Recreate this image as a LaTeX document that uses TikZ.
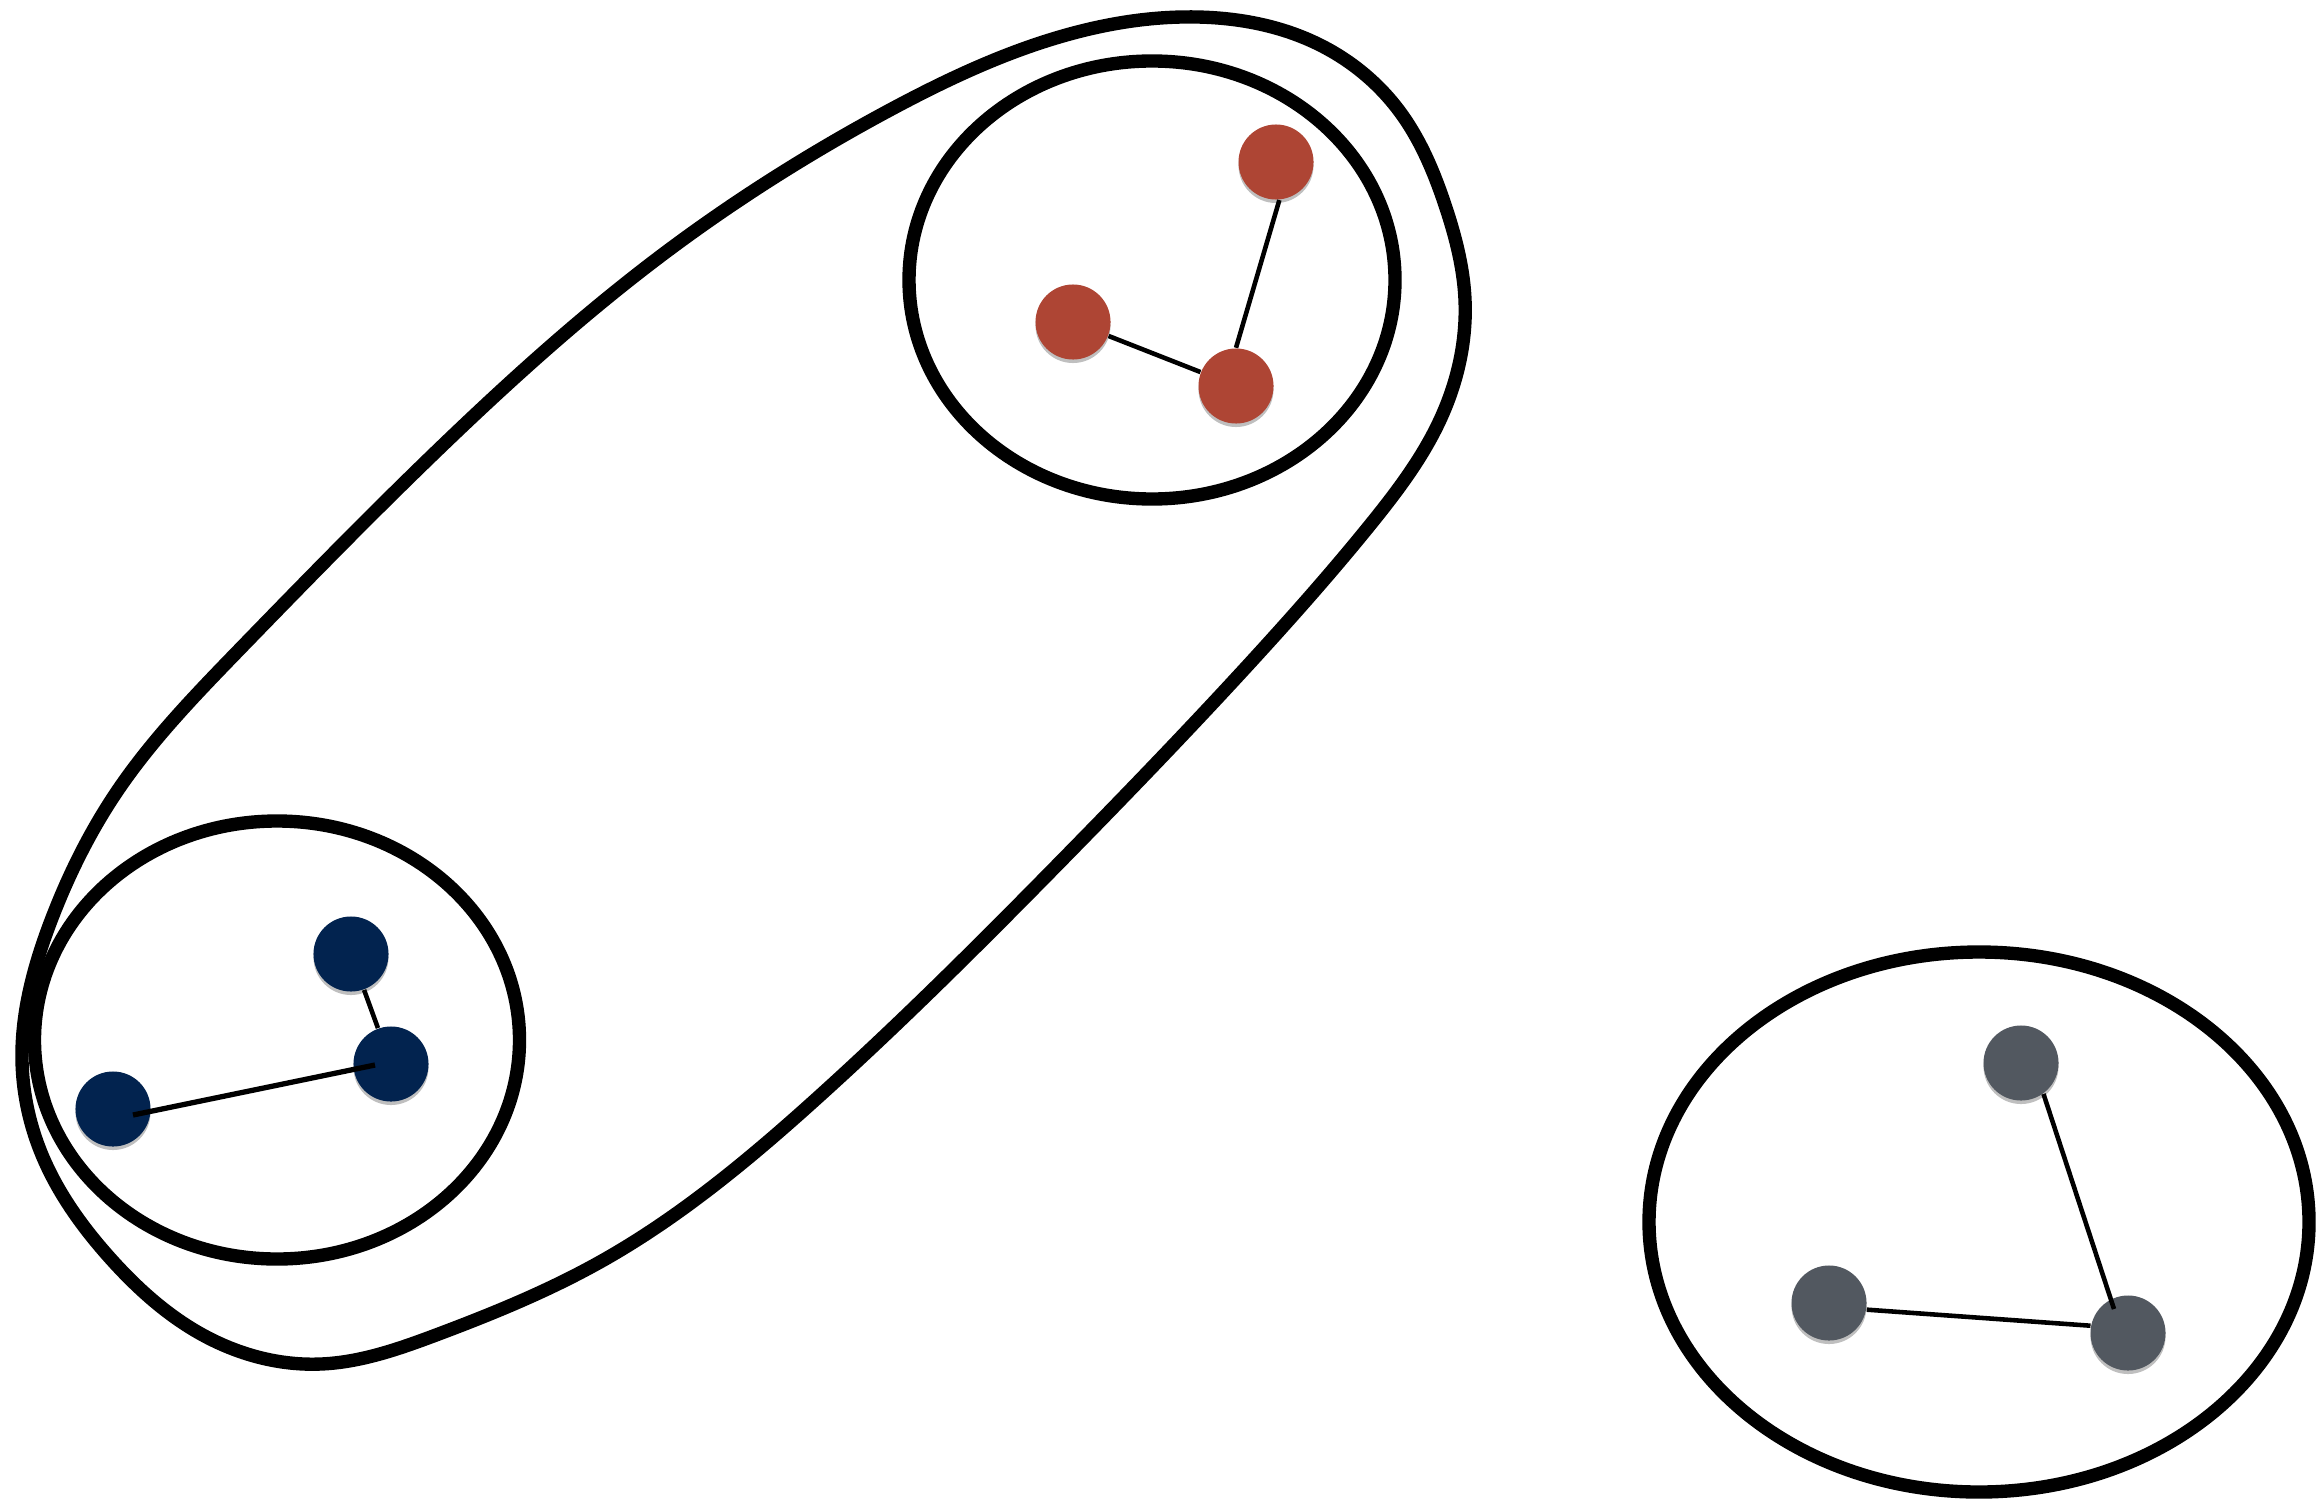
\documentclass[tikz,border=0pt]{standalone}
\usetikzlibrary{shadows,hobby,calc}
\definecolor{nred}{HTML}{AE4534}
\definecolor{nblue}{HTML}{02234F}
\definecolor{ngrey}{HTML}{525860}
\tikzset{
  ring/.style={draw=black, line width=3.8pt},
  dot/.style={circle, inner sep=0pt, minimum size=0.75cm, draw=none,
    drop shadow={shadow xshift=0pt, shadow yshift=-0.035cm, opacity=0.25, fill=black}},
  link/.style={draw=black, line width=1.3pt},
}
\begin{document}
\begin{tikzpicture}[x=0.01cm, y=-0.01cm]
\useasboundingbox (0,0) rectangle (2322,1500);
% outer blob
\draw[ring, use Hobby shortcut, closed=true]
  (1197,17) .. (1320,45) .. (1400,112) .. (1445,205) .. (1465,300) .. (1440,420)
  .. (1370,525) .. (1260,652) .. (1065,857) .. (815,1100) .. (600,1262)
  .. (436,1335) .. (321,1364) .. (201,1334) .. (110,1258) .. (40,1150)
  .. (22,1060) .. (52,918) .. (118,790) .. (237,652) .. (444,444) .. (666,252)
  .. (888,111) .. (1037,44);
% cluster ellipses
\draw[ring] (1152,280) ellipse [x radius=243, y radius=219];
\draw[ring] (277,1040) ellipse [x radius=242.5, y radius=219];
\draw[ring] (1979,1222) ellipse [x radius=330, y radius=270];
% red nodes
\node[dot, fill=nred] (R1) at (1276,162) {};
\node[dot, fill=nred] (R2) at (1073,322) {};
\node[dot, fill=nred] (R3) at (1236,386) {};
% blue nodes
\node[dot, fill=nblue] (B1) at (351,954) {};
\node[dot, fill=nblue] (B2) at (391,1064) {};
\node[dot, fill=nblue] (B3) at (113,1109) {};
% grey nodes
\node[dot, fill=ngrey] (G1) at (2021,1063) {};
\node[dot, fill=ngrey] (G2) at (1829,1303) {};
\node[dot, fill=ngrey] (G3) at (2128,1333) {};
% edges
\draw[link] (R1.-85) -- (R3.north);
\draw[link] (R2) -- (R3);
\draw[link] (B1) -- (B2);
\draw[link, line width=1.5pt] ($(B3.center)+(20,6)$) -- ($(B2.center)+(-16,1)$);
\draw[link] (G1.-54) -- ($(G3.center)+(-14,-24)$);
\draw[link] (G2.-10) -- (G3.169);
\end{tikzpicture}
\end{document}
